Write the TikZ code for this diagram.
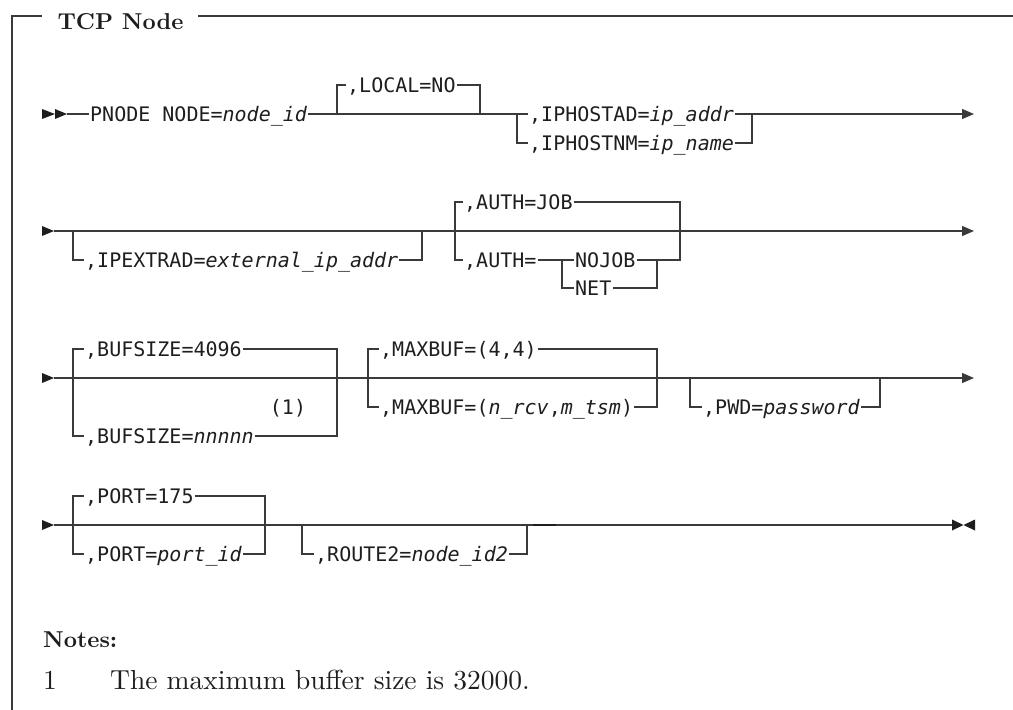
\documentclass[tikz,border=0pt]{standalone}
\usepackage{fontspec}
\setmonofont{DejaVu Sans Mono}
\newfontfamily\notefont{lmroman10-regular}[Extension=.otf, BoldFont=lmroman10-bold]
\usetikzlibrary{arrows.meta}
\definecolor{rule}{HTML}{3A3A3A}
\definecolor{ink}{HTML}{1E1E1E}
\begin{document}
\begin{tikzpicture}[x=1pt,y=-1pt,
  rail/.style={draw=rule, line width=1.3pt},
  frame/.style={draw=rule, line width=1.2pt},
  kw/.style={anchor=west, inner xsep=1pt, inner ysep=0pt, text height=14.6pt,
    text depth=0pt, text=ink, font=\ttfamily\fontsize{20}{24}\selectfont},
  endarrow/.style={-{Triangle[length=12pt,width=10pt]}},
  tip/.style={fill=ink},
  heading/.style={text=ink, inner sep=0pt, font=\notefont\bfseries\fontsize{23}{27}\selectfont},
  notetext/.style={text=ink, inner sep=0pt, font=\notefont\fontsize{27.5}{32}\selectfont}]
\useasboundingbox (0,0) rectangle (1013,710);

% fragment frame and its heading
\node[heading, anchor=base] (title) at (120.5,29.5) {TCP Node};
\coordinate (fbl) at (12,710);
\coordinate (ftl) at (12,16);
\coordinate (ftm) at (42,16);
\coordinate (ftn) at (198,16);
\coordinate (ftr) at (1013,16);
\draw[frame] (fbl) -- (ftl) -- (ftm);
\draw[frame] (ftn) -- (ftr);

% ---------- row 1 ----------
\fill[tip] (42,109) -- (55,114) -- (42,119) -- cycle;
\fill[tip] (55,109) -- (67,114) -- (55,119) -- cycle;
\coordinate (r1s) at (67,114);
\node[kw] (pnode) at (89,114) {PNODE NODE=\textit{node\_id}};
\coordinate (l1a) at (337,114);
\coordinate (l1b) at (480,114);
\node[kw] (local) at (346,85) {,LOCAL=NO};
\coordinate (c1a) at (517,114);
\coordinate (c1b) at (752,114);
\node[kw] (iphad) at (528,114) {,IPHOSTAD=\textit{ip\_addr}};
\node[kw] (iphnm) at (528,143) {,IPHOSTNM=\textit{ip\_name}};
\coordinate (e1) at (974,114);
\draw[rail] (r1s) -- (pnode.west);
\draw[rail] (pnode.east) -- (l1a) -- (l1b) -- (c1a) -- (iphad.west);
\draw[rail] (l1a) |- (local.west);
\draw[rail] (local.east) -| (l1b);
\draw[rail] (c1a) |- (iphnm.west);
\draw[rail] (iphnm.east) -| (c1b);
\draw[rail, endarrow] (iphad.east) -- (c1b) -- (e1);

% ---------- row 2 ----------
\fill[tip] (42,226) -- (54,231) -- (42,236) -- cycle;
\coordinate (r2s) at (54,231);
\coordinate (b2a) at (73,231);
\coordinate (b2b) at (422,231);
\node[kw] (ipext) at (84,260) {,IPEXTRAD=\textit{external\_ip\_addr}};
\coordinate (a2a) at (455,231);
\coordinate (a2b) at (680,231);
\node[kw] (authjob) at (463,202) {,AUTH=JOB};
\node[kw] (autheq) at (463,260) {,AUTH=};
\coordinate (a2c) at (562,260);
\node[kw] (nojob) at (574,260) {NOJOB};
\node[kw] (net) at (574,288) {NET};
\coordinate (a2d) at (657,260);
\coordinate (e2) at (974,231);
\draw[rail, endarrow] (r2s) -- (e2);
\draw[rail] (b2a) |- (ipext.west);
\draw[rail] (ipext.east) -| (b2b);
\draw[rail] (authjob.west) -| (a2a) |- (autheq.west);
\draw[rail] (autheq.east) -- (a2c) -- (nojob.west);
\draw[rail] (a2c) |- (net.west);
\draw[rail] (nojob.east) -- (a2d);
\draw[rail] (net.east) -| (a2d);
\draw[rail] (authjob.east) -| (a2b) |- (a2d);

% ---------- row 3 ----------
\fill[tip] (42,373) -- (54,378) -- (42,383) -- cycle;
\coordinate (r3s) at (54,378);
\coordinate (b3a) at (73,378);
\coordinate (b3b) at (337,378);
\node[kw] (bufdef) at (84,349) {,BUFSIZE=4096};
\node[kw] (bufn) at (84,436) {,BUFSIZE=\textit{nnnnn}};
\node[kw, anchor=center] (bufref) at (288,407) {(1)};
\coordinate (m3a) at (368,378);
\coordinate (m3b) at (657,378);
\node[kw] (maxdef) at (379,349) {,MAXBUF=(4,4)};
\node[kw] (maxn) at (379,407) {,MAXBUF=(\textit{n\_rcv},\textit{m\_tsm})};
\coordinate (p3a) at (690,378);
\coordinate (p3b) at (880,378);
\node[kw] (pwd) at (702,407) {,PWD=\textit{password}};
\coordinate (e3) at (974,378);
\draw[rail, endarrow] (r3s) -- (e3);
\draw[rail] (bufdef.west) -| (b3a) |- (bufn.west);
\draw[rail] (bufdef.east) -| (b3b) |- (bufn.east);
\draw[rail] (maxdef.west) -| (m3a) |- (maxn.west);
\draw[rail] (maxdef.east) -| (m3b) |- (maxn.east);
\draw[rail] (p3a) |- (pwd.west);
\draw[rail] (pwd.east) -| (p3b);

% ---------- row 4 ----------
\fill[tip] (42,520) -- (54,525) -- (42,530) -- cycle;
\coordinate (r4s) at (54,525);
\coordinate (q4a) at (73,525);
\coordinate (q4b) at (265,525);
\node[kw] (portdef) at (84,496) {,PORT=175};
\node[kw] (portn) at (84,554) {,PORT=\textit{port\_id}};
\coordinate (t4a) at (302,525);
\coordinate (t4b) at (527,525);
\node[kw] (route) at (314,554) {,ROUTE2=\textit{node\_id2}};
\coordinate (k4a) at (533,525);
\coordinate (k4b) at (556,525);
\coordinate (e4) at (952,525);
\draw[rail] (r4s) -- (e4);
\draw[rail] (portdef.west) -| (q4a) |- (portn.west);
\draw[rail] (portdef.east) -| (q4b) |- (portn.east);
\draw[rail] (t4a) |- (route.west);
\draw[rail] (route.east) -| (t4b);
\draw[draw=ink, line width=2.2pt] (k4a) -- (k4b);
\fill[tip] (952,519.5) -- (963.5,525) -- (952,530.5) -- cycle;
\fill[tip] (975,519.5) -- (963.5,525) -- (975,530.5) -- cycle;

% ---------- notes ----------
\node[heading, anchor=base west] (notes) at (43,647) {Notes:};
\node[notetext, anchor=base west] (n1num) at (43,689) {1};
\node[notetext, anchor=base west] (n1txt) at (110,689) {The maximum buffer size is 32000.};
\end{tikzpicture}
\end{document}
